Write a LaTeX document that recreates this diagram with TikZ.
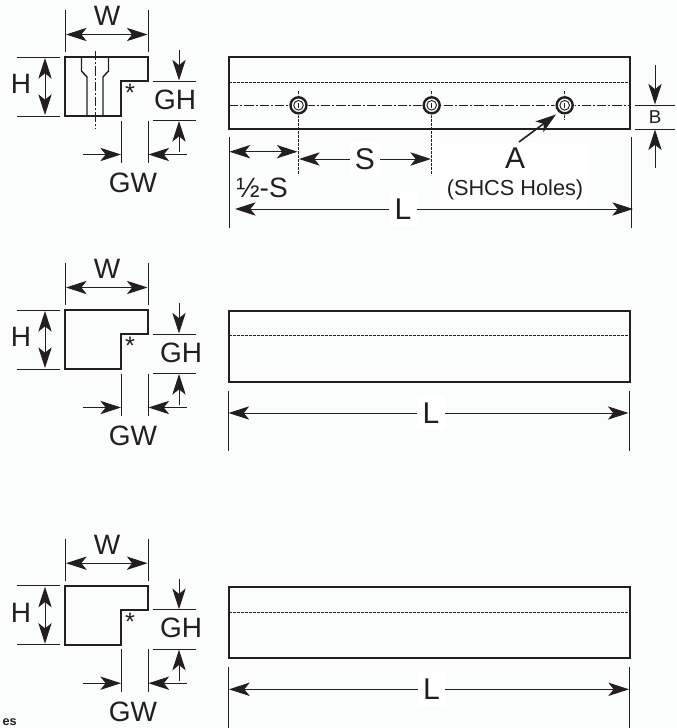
\documentclass[tikz,border=0pt]{standalone}
\usepackage{fontspec}
\setmainfont{Liberation Sans}
\usetikzlibrary{arrows.meta}
\definecolor{inkcol}{HTML}{231F20}
\definecolor{papercol}{HTML}{FBFDFC}
\tikzset{
    part/.style={inkcol, line width=1.6pt, line join=miter},
    thinline/.style={inkcol, line width=0.7pt},
    hidden/.style={inkcol, line width=0.7pt, dash pattern=on 2pt off 1pt},
    centerline/.style={inkcol, line width=0.7pt, dash pattern=on 7pt off 1.5pt on 1.5pt off 1.5pt},
    dimtip/.style={thinline, -{Stealth[length=15.5pt, width=10pt, inset=4pt]}},
    dimboth/.style={thinline, {Stealth[length=15.5pt, width=10pt, inset=4pt]}-{Stealth[length=15.5pt, width=10pt, inset=4pt]}},
    biglabel/.style={inkcol, inner sep=0pt, font=\fontsize{21}{21}\selectfont},
    boxlabel/.style={inkcol, fill=white, inner xsep=4pt, inner ysep=5pt, font=\fontsize{22.5}{22.5}\selectfont}
}
\begin{document}
\begin{tikzpicture}[x=0.75pt,y=-0.75pt]
            \useasboundingbox [fill=papercol] (0, 0) rectangle (677, 728);
            %end views and bars, same drawing three times
            \foreach \r/\dy/\gx/\bartop/\barbot/\barmid/\extA/\extB/\Lx/\Rx in {a/0/175/57.3/129.3/82.7/137/228/229/631, b/253/181/310.7/382.3/335.7/391/451/228/629, c/528.7/181/586.7/658.3/612/667/728/228.5/629.5} {
                \begin{scope}[shift={(0, \dy)}]
                    %profile
                    \draw [part] (65, 57) -- (148, 57) -- (148, 81) -- (121, 81) -- (121, 116) -- (65, 116) -- cycle;
                    \node [inkcol, inner sep=0pt, font=\fontsize{19}{19}\selectfont] (star\r) at (130, 93) {*};
                    %W
                    \draw [thinline] (65.5, 10) -- (65.5, 52);
                    \draw [thinline] (148, 10) -- (148, 52);
                    \draw [dimboth] (66, 34.5) -- (147.5, 34.5);
                    \node [biglabel] (W\r) at (107, 16) {W};
                    %H
                    \draw [thinline] (17, 57) -- (60, 57);
                    \draw [thinline] (17, 116) -- (60, 116);
                    \draw [dimboth] (45, 58) -- (45, 115);
                    \node [biglabel] (H\r) at (21, 84) {H};
                    %GH
                    \draw [thinline] (153, 81) -- (196, 81);
                    \draw [thinline] (153, 120.5) -- (196, 120.5);
                    \draw [dimtip] (179, 50) -- (179, 80.5);
                    \draw [dimtip] (179, 152) -- (179, 121);
                    \node [biglabel] (GH\r) at (\gx, 99.5) {GH};
                    %GW
                    \draw [thinline] (121.5, 120.5) -- (121.5, 163);
                    \draw [thinline] (148, 120.5) -- (148, 163);
                    \draw [dimtip] (83, 154.5) -- (121, 154.5);
                    \draw [dimtip] (187, 154.5) -- (148.5, 154.5);
                    \node [biglabel] (GW\r) at (133, 183) {GW};
                \end{scope}
                %bar
                \draw [part] (229, \bartop) rectangle (630, \barbot);
                \draw [hidden] (229, \barmid) -- (630, \barmid);
                \draw [thinline] (\Lx, \extA) -- (\Lx, \extB);
                \draw [thinline] (\Rx, \extA) -- (\Rx, \extB);
            }
            %L on the two plain bars
            \draw [dimboth] (228.5, 413) -- node [boxlabel, pos=0.506] (Lb) {L} (628.5, 413);
            \draw [dimboth] (229, 689.3) -- node [boxlabel, pos=0.506] (Lc) {L} (629, 689.3);
            %mounting holes
            \draw [centerline] (229, 105.5) -- (630, 105.5);
            \foreach \n/\hx/\hbot in {1/298.5/175, 2/431.7/175, 3/564.7/120} {
                \draw [hidden] (\hx, 91) -- (\hx, \hbot);
                \fill [papercol] (\hx, 105.3) circle (10);
                \draw [inkcol, line width=1.8pt] (\hx, 105.3) circle (8);
                \draw [inkcol, line width=0.7pt] (\hx, 105.3) circle (4.8);
                \draw [inkcol, line width=0.5pt] (\hx, 103) -- (\hx, 107.5);
                \coordinate (hole\n) at (\hx, 105.3);
            }
            %S dimensions
            \draw [dimboth] (229.5, 151.7) -- (297.5, 151.7);
            \draw [dimboth] (299, 159) -- node [boxlabel] (S) {S} (431, 159);
            \node [biglabel] (halfS) at (262, 188) {½-S};
            %L on the top bar
            \fill [white] (440, 143) rectangle (588, 208);
            \draw [dimboth] (235, 209) -- node [boxlabel, pos=0.422] (La) {L} (633, 209);
            %A
            \node [inkcol, inner sep=0pt, font=\fontsize{22.5}{22.5}\selectfont] (A) at (515, 158) {A};
            \node [inkcol, inner sep=0pt, font=\fontsize{16.3}{16.3}\selectfont] (shcs) at (515, 190) {(SHCS Holes)};
            \coordinate (leadA) at (519, 142);
            \coordinate (tipA) at (556, 114.5);
            \draw [inkcol, line width=1.2pt, -{Stealth[length=15.5pt, width=10pt, inset=4pt]}] (leadA) -- (tipA);
            %B
            \draw [thinline] (635, 105) -- (675, 105);
            \draw [thinline] (635, 129) -- (675, 129);
            \draw [dimtip] (655, 65) -- (655, 104.5);
            \draw [dimtip] (655, 168) -- (655, 129.5);
            \node [inkcol, inner sep=0pt, font=\fontsize{14}{14}\selectfont] (B) at (655, 117) {B};
            %section view counterbore of the top profile
            \draw [inkcol, line width=1.1pt] (81.5, 57) -- (81.5, 71) -- (87, 77) -- (87, 116);
            \draw [inkcol, line width=1.1pt] (108.5, 57) -- (108.5, 71) -- (103, 77) -- (103, 116);
            \draw [centerline] (95, 51) -- (95, 128);
            %note at the corner
            \node [inkcol, anchor=base east, inner sep=0pt, font=\bfseries\fontsize{9.5}{9.5}\selectfont] (note) at (17, 725) {es};
        \end{tikzpicture}
\end{document}
